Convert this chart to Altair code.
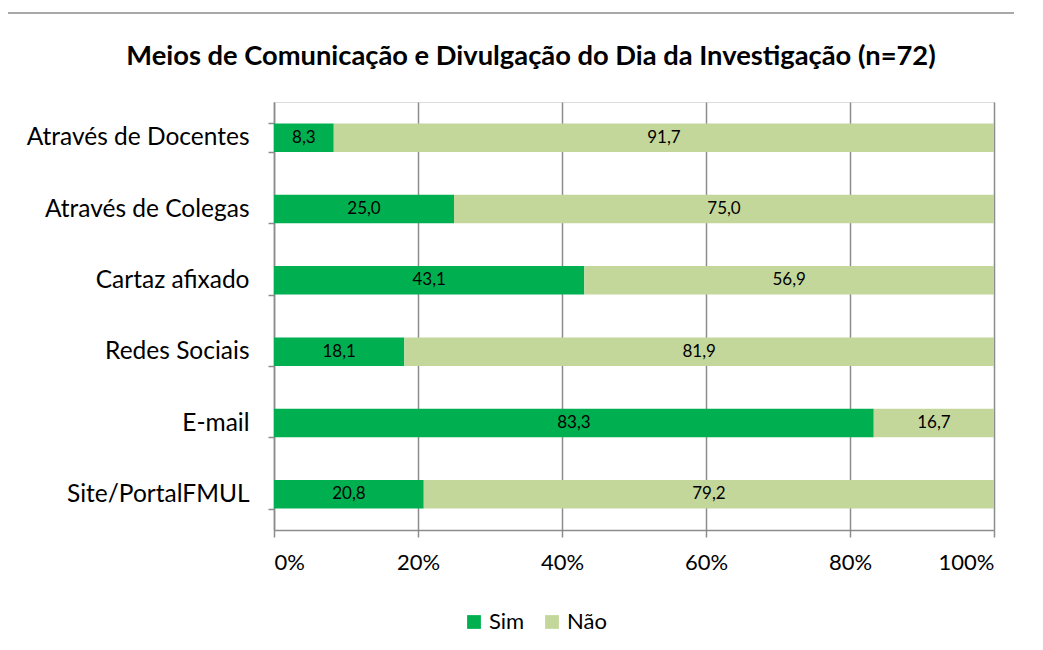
import altair as alt
import pandas as pd

categories = ["Através de Docentes", "Através de Colegas", "Cartaz afixado",
              "Redes Sociais", "E-mail", "Site/PortalFMUL"]
sim = [8.3, 25.0, 43.1, 18.1, 83.3, 20.8]
nao = [91.7, 75.0, 56.9, 81.9, 16.7, 79.2]
series = ["Sim", "Não"]
colors = ["#00B050", "#C4D79B"]

rows = []
for c, s, n in zip(categories, sim, nao):
    rows.append({"cat": c, "serie": "Sim", "ord": 0, "value": s})
    rows.append({"cat": c, "serie": "Não", "ord": 1, "value": n})
df = pd.DataFrame(rows)

FONT = "Lato"
GRAY = "#8C8C8C"

base = alt.Chart(df).transform_stack(
    stack="value", as_=["v0", "v1"], groupby=["cat"],
    sort=[alt.SortField("ord")], offset="normalize"
).transform_calculate(
    mid="(datum.v0 + datum.v1) / 2",
    lab="replace(format(datum.value, '.1f'), '.', ',')"
)

yenc = alt.Y("cat:N", sort=categories,
             scale=alt.Scale(paddingInner=0.6, paddingOuter=0.3),
             axis=alt.Axis(title=None, tickBand="extent", grid=False,
                           domainColor=GRAY, tickColor=GRAY, tickSize=6,
                           labelPadding=19, labelFontSize=24.5, labelFont=FONT,
                           labelLimit=400,
                           labelColor="#000000", domainWidth=1.5, tickWidth=1.5))

bars = base.mark_bar().encode(
    x=alt.X("v0:Q", scale=alt.Scale(domain=[0, 1]),
            axis=alt.Axis(title=None, format="%", values=[0, 0.2, 0.4, 0.6, 0.8, 1.0],
                          grid=True, gridColor=GRAY, gridWidth=1.5,
                          domainColor=GRAY, tickColor=GRAY, tickSize=7,
                          domainWidth=1.5, tickWidth=1.5,
                          labelFontSize=22, labelFont=FONT, labelColor="#000000",
                          labelPadding=15)),
    x2="v1:Q",
    y=yenc,
    color=alt.Color("serie:N", scale=alt.Scale(domain=series, range=colors),
                    legend=alt.Legend(title=None, orient="none", direction="horizontal",
                                      legendX=189, legendY=509,
                                      symbolType="square", symbolSize=190,
                                      symbolStrokeWidth=0, symbolOpacity=1,
                                      labelFontSize=22, labelFont=FONT,
                                      labelColor="#000000", columnPadding=16,
                                      padding=0)),
    order=alt.Order("ord:Q"),
)

labels = base.mark_text(fontSize=17, font=FONT, color="#000000").encode(
    x="mid:Q",
    y=alt.Y("cat:N", sort=categories),
    text="lab:N",
)

frame = alt.Chart(alt.Data(values=[{"a": 1}])).mark_rect(
    filled=False, stroke=GRAY, strokeWidth=1.5, clip=False
).encode(
    x=alt.value(-270), x2=alt.value(780),
    y=alt.value(-89), y2=alt.value(560),
)

chart = alt.layer(frame, bars, labels).properties(
    width=720, height=428,
    title=alt.TitleParams(
        "Meios de Comunicação e Divulgação do Dia da Investigação (n=72)",
        font=FONT, fontSize=27.3, fontWeight="bold", color="#000000",
        anchor="middle", dx=-103, offset=-58),
    padding={"left": 266, "top": 94, "right": 20, "bottom": 115},
    autosize=alt.AutoSizeParams(type="none"),
).configure_view(stroke=None).configure(background="#FFFFFF")

chart.save("out.html", embed_options={"renderer": "svg", "actions": False})
